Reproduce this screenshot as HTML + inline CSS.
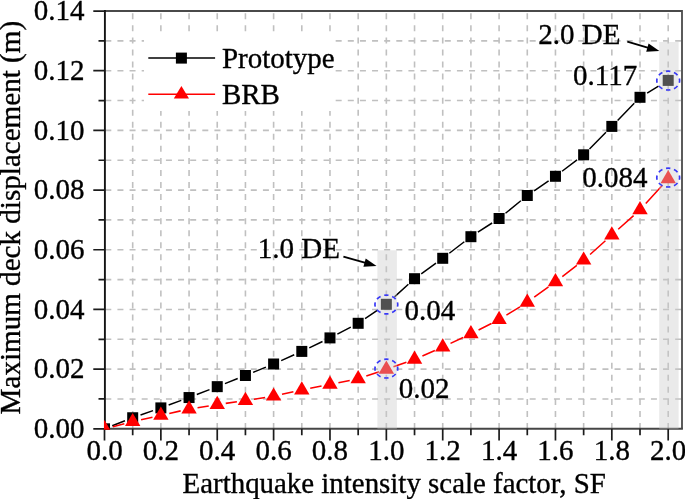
<!DOCTYPE html>
<html><head><meta charset="utf-8"><title>Maximum deck displacement vs SF</title>
<style>
html,body{margin:0;padding:0;background:#fff;}
body{width:685px;height:499px;overflow:hidden;}
svg{display:block;}
text{font-family:"Liberation Serif","Times New Roman",serif;fill:#000;stroke:#000;stroke-width:0.35px;}
</style></head><body>
<svg width="685" height="499" viewBox="0 0 685 499">
<defs><clipPath id="pc"><rect x="104" y="11.0" width="578.0" height="418.7"/></clipPath></defs>
<path d="M132.69,429.0V11.0M160.87,429.0V11.0M189.06,429.0V11.0M217.24,429.0V11.0M245.43,429.0V11.0M273.61,429.0V11.0M301.80,429.0V11.0M329.98,429.0V11.0M358.17,429.0V11.0M386.35,429.0V11.0M414.54,429.0V11.0M442.72,429.0V11.0M470.91,429.0V11.0M499.09,429.0V11.0M527.28,429.0V11.0M555.46,429.0V11.0M583.64,429.0V11.0M611.83,429.0V11.0M640.01,429.0V11.0M668.20,429.0V11.0" stroke="#c0c0c0" stroke-width="1.6" stroke-dasharray="6 6.05" fill="none"/>
<path d="M105.3,398.96H682.0M105.3,369.12H682.0M105.3,339.28H682.0M105.3,309.44H682.0M105.3,279.60H682.0M105.3,249.76H682.0M105.3,219.92H682.0M105.3,190.08H682.0M105.3,160.24H682.0M105.3,130.40H682.0M105.3,100.56H682.0M105.3,70.72H682.0M105.3,40.88H682.0" stroke="#c0c0c0" stroke-width="1.6" stroke-dasharray="6 6.125" fill="none"/>
<rect x="144" y="33" width="188" height="78" fill="#fff"/>
<path d="M104.5,11.0H682.0V428.85" fill="none" stroke="#4a4a4a" stroke-width="1.8"/>
<path d="M104.5,428.85H682.9" fill="none" stroke="#464646" stroke-width="2.0"/>
<path d="M104.9,10.1V429.7" fill="none" stroke="#141414" stroke-width="1.9"/>
<path d="M104.50,428.8v11.8M132.69,428.8v6.5M160.87,428.8v11.8M189.06,428.8v6.5M217.24,428.8v11.8M245.43,428.8v6.5M273.61,428.8v11.8M301.80,428.8v6.5M329.98,428.8v11.8M358.17,428.8v6.5M386.35,428.8v11.8M414.54,428.8v6.5M442.72,428.8v11.8M470.91,428.8v6.5M499.09,428.8v11.8M527.28,428.8v6.5M555.46,428.8v11.8M583.64,428.8v6.5M611.83,428.8v11.8M640.01,428.8v6.5M668.20,428.8v11.8M104.5,428.80h-11.2M104.5,398.96h-6M104.5,369.12h-11.2M104.5,339.28h-6M104.5,309.44h-11.2M104.5,279.60h-6M104.5,249.76h-11.2M104.5,219.92h-6M104.5,190.08h-11.2M104.5,160.24h-6M104.5,130.40h-11.2M104.5,100.56h-6M104.5,70.72h-11.2M104.5,40.88h-6M104.5,11.04h-11.2" stroke="#1c1c1c" stroke-width="1.7" fill="none"/>
<g clip-path="url(#pc)">
<path d="M112.23,425.77L124.96,420.78M140.52,415.01L153.03,410.64M168.66,405.04L181.26,400.41M196.80,394.56L209.50,389.64M224.96,383.60L237.71,378.55M253.11,372.36L265.93,367.14M281.19,360.61L294.22,354.79M309.28,347.81L322.49,341.49M337.35,334.08L350.80,327.12M365.05,318.66L377.23,310.45M394.49,296.90L408.39,284.28M421.26,273.83L436.00,263.17M449.31,253.25L464.32,241.75M477.88,232.20L492.12,223.00M505.52,213.25L520.84,200.75M534.13,190.83L548.60,180.97M562.06,171.27L577.05,159.83M589.49,148.91L605.98,132.29M617.60,120.44L634.24,103.26M647.13,93.03L658.51,86.21" stroke="#000" stroke-width="1.5" fill="none"/>
<path d="M112.84,426.70L124.35,423.80M141.07,419.80L152.48,417.20M169.26,413.42L180.66,410.88M197.55,407.67L208.74,405.93M225.75,403.39L236.91,401.81M253.92,399.27L265.11,397.53M282.01,394.35L293.40,391.85M310.23,388.32L321.54,386.08M338.42,382.72L349.73,380.48M366.31,376.05L379.24,371.70M393.43,366.81L406.42,362.25M422.41,355.94L434.85,350.46M450.52,343.38L463.11,337.52M478.57,330.01L491.42,323.49M506.42,315.10L519.95,306.80M534.23,297.24L548.51,286.86M562.29,276.57L576.82,265.43M590.06,254.47L605.42,240.73M618.25,229.28L633.59,215.62M645.79,203.53L662.42,185.17" stroke="#f00" stroke-width="1.55" fill="none"/>
<rect x="99.00" y="423.30" width="11" height="11" fill="#000"/>
<rect x="127.19" y="412.25" width="11" height="11" fill="#000"/>
<rect x="155.37" y="402.40" width="11" height="11" fill="#000"/>
<rect x="183.56" y="392.05" width="11" height="11" fill="#000"/>
<rect x="211.74" y="381.15" width="11" height="11" fill="#000"/>
<rect x="239.93" y="370.00" width="11" height="11" fill="#000"/>
<rect x="268.11" y="358.50" width="11" height="11" fill="#000"/>
<rect x="296.30" y="345.90" width="11" height="11" fill="#000"/>
<rect x="324.48" y="332.40" width="11" height="11" fill="#000"/>
<rect x="352.67" y="317.80" width="11" height="11" fill="#000"/>
<rect x="380.85" y="298.80" width="11" height="11" fill="#000"/>
<rect x="409.04" y="273.20" width="11" height="11" fill="#000"/>
<rect x="437.22" y="252.80" width="11" height="11" fill="#000"/>
<rect x="465.41" y="231.20" width="11" height="11" fill="#000"/>
<rect x="493.59" y="213.00" width="11" height="11" fill="#000"/>
<rect x="521.78" y="190.00" width="11" height="11" fill="#000"/>
<rect x="549.96" y="170.80" width="11" height="11" fill="#000"/>
<rect x="578.14" y="149.30" width="11" height="11" fill="#000"/>
<rect x="606.33" y="120.90" width="11" height="11" fill="#000"/>
<rect x="634.51" y="91.80" width="11" height="11" fill="#000"/>
<rect x="662.70" y="74.90" width="11" height="11" fill="#000"/>
<path d="M104.50,420.00L112.20,433.20L96.80,433.20Z" fill="#f00"/>
<path d="M132.69,412.90L140.38,426.10L124.98,426.10Z" fill="#f00"/>
<path d="M160.87,406.50L168.57,419.70L153.17,419.70Z" fill="#f00"/>
<path d="M189.06,400.20L196.75,413.40L181.36,413.40Z" fill="#f00"/>
<path d="M217.24,395.80L224.94,409.00L209.54,409.00Z" fill="#f00"/>
<path d="M245.43,391.80L253.12,405.00L237.73,405.00Z" fill="#f00"/>
<path d="M273.61,387.40L281.31,400.60L265.91,400.60Z" fill="#f00"/>
<path d="M301.80,381.20L309.50,394.40L294.10,394.40Z" fill="#f00"/>
<path d="M329.98,375.60L337.68,388.80L322.28,388.80Z" fill="#f00"/>
<path d="M358.17,370.00L365.87,383.20L350.47,383.20Z" fill="#f00"/>
<path d="M386.35,360.50L394.05,373.70L378.65,373.70Z" fill="#f00"/>
<path d="M414.54,350.60L422.24,363.80L406.84,363.80Z" fill="#f00"/>
<path d="M442.72,338.20L450.42,351.40L435.02,351.40Z" fill="#f00"/>
<path d="M470.91,325.10L478.61,338.30L463.21,338.30Z" fill="#f00"/>
<path d="M499.09,310.80L506.79,324.00L491.39,324.00Z" fill="#f00"/>
<path d="M527.28,293.50L534.98,306.70L519.58,306.70Z" fill="#f00"/>
<path d="M555.46,273.00L563.16,286.20L547.76,286.20Z" fill="#f00"/>
<path d="M583.64,251.40L591.35,264.60L575.94,264.60Z" fill="#f00"/>
<path d="M611.83,226.20L619.53,239.40L604.13,239.40Z" fill="#f00"/>
<path d="M640.01,201.10L647.72,214.30L632.31,214.30Z" fill="#f00"/>
<path d="M668.20,170.00L675.90,183.20L660.50,183.20Z" fill="#f00"/>
</g>
<rect x="377.4" y="250.3" width="19.5" height="178.50" fill="rgb(202,202,202)" fill-opacity="0.396"/>
<rect x="659.2" y="42" width="19.4" height="386.80" fill="rgb(202,202,202)" fill-opacity="0.396"/>
<ellipse cx="386.35" cy="304.50" rx="11.4" ry="9.4" fill="none" stroke="#3838f6" stroke-width="1.7" pathLength="80" stroke-dasharray="5.4 4.6" stroke-dashoffset="2.7"/>
<ellipse cx="386.35" cy="368.60" rx="11.4" ry="9.4" fill="none" stroke="#3838f6" stroke-width="1.7" pathLength="80" stroke-dasharray="5.4 4.6" stroke-dashoffset="2.7"/>
<ellipse cx="668.20" cy="80.60" rx="11.4" ry="9.4" fill="none" stroke="#3838f6" stroke-width="1.7" pathLength="80" stroke-dasharray="5.4 4.6" stroke-dashoffset="2.7"/>
<ellipse cx="668.20" cy="177.60" rx="11.4" ry="9.4" fill="none" stroke="#3838f6" stroke-width="1.7" pathLength="80" stroke-dasharray="5.4 4.6" stroke-dashoffset="2.7"/>
<text x="84.5" y="437.90" font-size="29" text-anchor="end">0.00</text>
<text x="84.5" y="378.22" font-size="29" text-anchor="end">0.02</text>
<text x="84.5" y="318.54" font-size="29" text-anchor="end">0.04</text>
<text x="84.5" y="258.86" font-size="29" text-anchor="end">0.06</text>
<text x="84.5" y="199.18" font-size="29" text-anchor="end">0.08</text>
<text x="84.5" y="139.50" font-size="29" text-anchor="end">0.10</text>
<text x="84.5" y="79.82" font-size="29" text-anchor="end">0.12</text>
<text x="84.5" y="20.14" font-size="29" text-anchor="end">0.14</text>
<text x="104.50" y="460.0" font-size="29" text-anchor="middle">0.0</text>
<text x="160.87" y="460.0" font-size="29" text-anchor="middle">0.2</text>
<text x="217.24" y="460.0" font-size="29" text-anchor="middle">0.4</text>
<text x="273.61" y="460.0" font-size="29" text-anchor="middle">0.6</text>
<text x="329.98" y="460.0" font-size="29" text-anchor="middle">0.8</text>
<text x="386.35" y="460.0" font-size="29" text-anchor="middle">1.0</text>
<text x="442.72" y="460.0" font-size="29" text-anchor="middle">1.2</text>
<text x="499.09" y="460.0" font-size="29" text-anchor="middle">1.4</text>
<text x="555.46" y="460.0" font-size="29" text-anchor="middle">1.6</text>
<text x="611.83" y="460.0" font-size="29" text-anchor="middle">1.8</text>
<text x="668.20" y="460.0" font-size="29" text-anchor="middle">2.0</text>
<text x="394.2" y="492.6" font-size="28.9" text-anchor="middle">Earthquake intensity scale factor, SF</text>
<text transform="translate(20.3,217.65) rotate(-90)" font-size="29.1" text-anchor="middle">Maximum deck displacement (m)</text>
<path d="M148.3,58H215.1" stroke="#000" stroke-width="1.5"/>
<rect x="175.9" y="52.6" width="11" height="11" fill="#000"/>
<path d="M148.3,94.3H215.1" stroke="#f00" stroke-width="1.55"/>
<path d="M181.4,86.1L189,98.6L173.8,98.6Z" fill="#f00"/>
<text x="221.9" y="68.3" font-size="29">Prototype</text>
<text x="221.9" y="104.2" font-size="29">BRB</text>
<text x="257.7" y="257.7" font-size="29">1.0 DE</text>
<text x="538.3" y="44.3" font-size="29">2.0 DE</text>
<text x="404.5" y="319.9" font-size="29">0.04</text>
<text x="573.0" y="84.7" font-size="29">0.117</text>
<text x="398.8" y="397.9" font-size="29">0.02</text>
<text x="582.3" y="186.9" font-size="29">0.084</text>
<path d="M343.40,256.70L366.49,263.17" stroke="#000" stroke-width="1.9" fill="none"/><path d="M376.60,266.00L363.40,266.77L365.72,258.49Z" fill="#000"/>
<path d="M627.30,41.70L649.31,48.08" stroke="#000" stroke-width="1.9" fill="none"/><path d="M659.40,51.00L646.20,51.65L648.59,43.39Z" fill="#000"/>
</svg></body></html>
